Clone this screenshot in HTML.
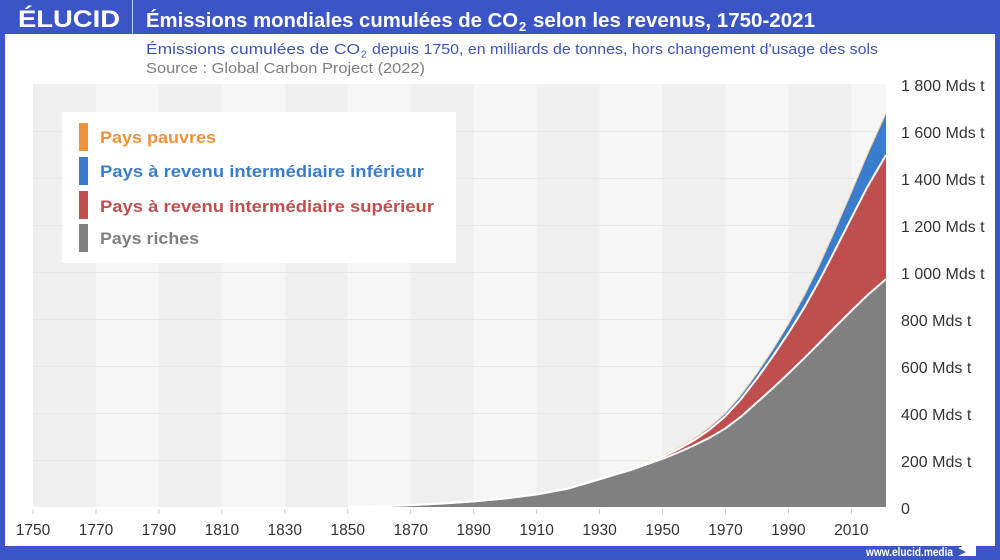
<!DOCTYPE html>
<html>
<head>
<meta charset="utf-8">
<style>
  html, body { margin:0; padding:0; background:#3b55c6; }
  body { width:1000px; height:560px; overflow:hidden; }
  svg { display:block; }
  text { font-family: "Liberation Sans", "DejaVu Sans", sans-serif; }
</style>
</head>
<body>
<svg width="1000" height="560" viewBox="0 0 1000 560" xmlns="http://www.w3.org/2000/svg">
  <defs>
    <clipPath id="plotclip"><rect x="33" y="84" width="853" height="423"/></clipPath>
  </defs>
  <!-- frame -->
  <rect x="0" y="0" width="1000" height="560" fill="#3b55c6"/>
  <rect x="5" y="34" width="990" height="512" fill="#ffffff"/>
  <line x1="132.5" y1="0" x2="132.5" y2="34" stroke="#c9d1f2" stroke-width="1"/>

  <!-- header -->
  <text x="18" y="27" font-size="24" font-weight="bold" fill="#ffffff" textLength="102" lengthAdjust="spacingAndGlyphs">ÉLUCID</text>
  <text x="146" y="27" font-size="20" font-weight="bold" fill="#ffffff" textLength="372" lengthAdjust="spacingAndGlyphs">Émissions mondiales cumulées de CO</text>
  <text x="519" y="31" font-size="13" font-weight="bold" fill="#ffffff">2</text>
  <text x="533" y="27" font-size="20" font-weight="bold" fill="#ffffff" textLength="282" lengthAdjust="spacingAndGlyphs">selon les revenus, 1750-2021</text>

  <!-- subtitle -->
  <text x="146" y="54" font-size="15" fill="#3d55b8" textLength="214" lengthAdjust="spacingAndGlyphs">Émissions cumulées de CO</text>
  <text x="361" y="57.5" font-size="10" fill="#3d55b8">2</text>
  <text x="372" y="54" font-size="15" fill="#3d55b8" textLength="506" lengthAdjust="spacingAndGlyphs">depuis 1750, en milliards de tonnes, hors changement d'usage des sols</text>
  <text x="146" y="73" font-size="15" fill="#7f7f7f" textLength="279" lengthAdjust="spacingAndGlyphs">Source : Global Carbon Project (2022)</text>

  <!-- plot bands -->
  <g>
    <rect x="33" y="84" width="62.95" height="423" fill="#efefef"/>
    <rect x="95.95" y="84" width="62.95" height="423" fill="#f6f6f6"/>
    <rect x="158.9" y="84" width="62.96" height="423" fill="#efefef"/>
    <rect x="221.86" y="84" width="62.94" height="423" fill="#f6f6f6"/>
    <rect x="284.8" y="84" width="62.96" height="423" fill="#efefef"/>
    <rect x="347.76" y="84" width="62.94" height="423" fill="#f6f6f6"/>
    <rect x="410.7" y="84" width="62.96" height="423" fill="#efefef"/>
    <rect x="473.66" y="84" width="62.94" height="423" fill="#f6f6f6"/>
    <rect x="536.6" y="84" width="62.97" height="423" fill="#efefef"/>
    <rect x="599.57" y="84" width="62.93" height="423" fill="#f6f6f6"/>
    <rect x="662.5" y="84" width="63" height="423" fill="#efefef"/>
    <rect x="725.5" y="84" width="62.9" height="423" fill="#f6f6f6"/>
    <rect x="788.4" y="84" width="63" height="423" fill="#efefef"/>
    <rect x="851.4" y="84" width="34.6" height="423" fill="#f6f6f6"/>
  </g>
  <!-- gridlines -->
  <g stroke="#e7e7e7" stroke-width="1">
    <line x1="33" y1="131.5" x2="886" y2="131.5"/>
    <line x1="33" y1="178.5" x2="886" y2="178.5"/>
    <line x1="33" y1="225.5" x2="886" y2="225.5"/>
    <line x1="33" y1="272.5" x2="886" y2="272.5"/>
    <line x1="33" y1="319.5" x2="886" y2="319.5"/>
    <line x1="33" y1="366.5" x2="886" y2="366.5"/>
    <line x1="33" y1="413.5" x2="886" y2="413.5"/>
    <line x1="33" y1="460.5" x2="886" y2="460.5"/>
  </g>

  <g clip-path="url(#plotclip)">
    <!-- poor (orange) -->
    <polygon fill="#f0923b" points="347.8,507 347.8,506.9 379.2,506.3 410.7,505.1 442.2,503.5 473.7,501.4 505.1,498.3 536.6,494.1 568.1,488.0 599.6,478.2 631.0,468.2 662.5,455.7 678.3,447.9 694.0,438.5 709.7,427.1 725.5,413.0 741.2,394.8 757.0,373.2 772.7,349.7 788.4,324.0 804.2,295.7 819.9,264.0 835.6,228.9 851.4,192.3 867.1,155.1 886,113.2 886,507"/>
    <!-- lower-middle (blue) -->
    <polygon fill="#3a7dcf" points="347.8,507 347.8,506.9 379.2,506.3 410.7,505.1 442.2,503.5 473.7,501.4 505.1,498.4 536.6,494.2 568.1,488.1 599.6,478.3 631.0,468.3 662.5,455.8 678.3,448.0 694.0,438.6 709.7,427.3 725.5,413.2 741.2,395.1 757.0,373.5 772.7,350.0 788.4,324.4 804.2,296.2 819.9,264.7 835.6,229.7 851.4,193.3 867.1,156.1 886,114.6 886,507"/>
    <!-- upper-middle (red) -->
    <polygon fill="#bf4f4f" points="347.8,507 347.8,506.9 379.2,506.3 410.7,505.1 442.2,503.5 473.7,501.4 505.1,498.4 536.6,494.3 568.1,488.3 599.6,478.7 631.0,468.9 662.5,456.7 678.3,449.2 694.0,440.3 709.7,429.5 725.5,416.1 741.2,398.9 757.0,378.5 772.7,356.6 788.4,333.1 804.2,307.7 819.9,279.5 835.6,249.0 851.4,217.9 867.1,187.4 886,155.0 886,507"/>
    <!-- rich (gray) -->
    <polygon fill="#808080" points="347.8,507 347.8,506.9 379.2,506.3 410.7,505.1 442.2,503.5 473.7,501.4 505.1,498.5 536.6,494.5 568.1,488.7 599.6,479.3 631.0,469.9 662.5,458.8 678.3,452.5 694.0,445.4 709.7,437.7 725.5,428.3 741.2,416.5 757.0,402.4 772.7,388.3 788.4,373.5 804.2,358.2 819.9,342.5 835.6,326.5 851.4,310.8 867.1,295.5 886,279.1 886,507"/>

    <!-- top lines -->
    <polyline fill="none" stroke="#f5cfa8" stroke-width="1" points="505.1,498.3 536.6,494.1 568.1,488.0 599.6,478.2 631.0,468.2 662.5,455.7 678.3,447.9 694.0,438.5 709.7,427.1 725.5,413.0 741.2,394.8 757.0,373.2 772.7,349.7 788.4,324.0 804.2,295.7 819.9,264.0 835.6,228.9 851.4,192.3 867.1,155.1 886,113.2"/>
    <polyline fill="none" stroke="#ffffff" stroke-width="2" stroke-linejoin="round" points="347.8,506.9 379.2,506.3 410.7,505.1 442.2,503.5 473.7,501.4 505.1,498.4 536.6,494.3 568.1,488.3 599.6,478.7 631.0,468.9 662.5,456.7 678.3,449.2 694.0,440.3 709.7,429.5 725.5,416.1 741.2,398.9 757.0,378.5 772.7,356.6 788.4,333.1 804.2,307.7 819.9,279.5 835.6,249.0 851.4,217.9 867.1,187.4 886,155.0"/>
    <polyline fill="none" stroke="#ffffff" stroke-width="2" stroke-linejoin="round" points="347.8,506.9 379.2,506.3 410.7,505.1 442.2,503.5 473.7,501.4 505.1,498.5 536.6,494.5 568.1,488.7 599.6,479.3 631.0,469.9 662.5,458.8 678.3,452.5 694.0,445.4 709.7,437.7 725.5,428.3 741.2,416.5 757.0,402.4 772.7,388.3 788.4,373.5 804.2,358.2 819.9,342.5 835.6,326.5 851.4,310.8 867.1,295.5 886,279.1"/>
  </g>

  <!-- x ticks -->
  <g stroke="#cccccc" stroke-width="1">
    <line x1="33" y1="509" x2="33" y2="514"/>
    <line x1="95.95" y1="509" x2="95.95" y2="514"/>
    <line x1="158.9" y1="509" x2="158.9" y2="514"/>
    <line x1="221.86" y1="509" x2="221.86" y2="514"/>
    <line x1="284.8" y1="509" x2="284.8" y2="514"/>
    <line x1="347.76" y1="509" x2="347.76" y2="514"/>
    <line x1="410.7" y1="509" x2="410.7" y2="514"/>
    <line x1="473.66" y1="509" x2="473.66" y2="514"/>
    <line x1="536.6" y1="509" x2="536.6" y2="514"/>
    <line x1="599.57" y1="509" x2="599.57" y2="514"/>
    <line x1="662.5" y1="509" x2="662.5" y2="514"/>
    <line x1="725.5" y1="509" x2="725.5" y2="514"/>
    <line x1="788.4" y1="509" x2="788.4" y2="514"/>
    <line x1="851.4" y1="509" x2="851.4" y2="514"/>
  </g>
  <!-- x labels -->
  <g font-size="15.5" fill="#333333" text-anchor="middle">
    <text x="33" y="535">1750</text>
    <text x="95.95" y="535">1770</text>
    <text x="158.9" y="535">1790</text>
    <text x="221.86" y="535">1810</text>
    <text x="284.8" y="535">1830</text>
    <text x="347.76" y="535">1850</text>
    <text x="410.7" y="535">1870</text>
    <text x="473.66" y="535">1890</text>
    <text x="536.6" y="535">1910</text>
    <text x="599.57" y="535">1930</text>
    <text x="662.5" y="535">1950</text>
    <text x="725.5" y="535">1970</text>
    <text x="788.4" y="535">1990</text>
    <text x="851.4" y="535">2010</text>
  </g>
  <!-- y labels -->
  <g font-size="16" fill="#333333">
    <text x="901" y="91">1 800 Mds t</text>
    <text x="901" y="138">1 600 Mds t</text>
    <text x="901" y="185">1 400 Mds t</text>
    <text x="901" y="232">1 200 Mds t</text>
    <text x="901" y="279">1 000 Mds t</text>
    <text x="901" y="326">800 Mds t</text>
    <text x="901" y="373">600 Mds t</text>
    <text x="901" y="420">400 Mds t</text>
    <text x="901" y="467">200 Mds t</text>
    <text x="901" y="514">0</text>
  </g>

  <!-- legend -->
  <rect x="62" y="112" width="394" height="151" fill="#ffffff"/>
  <rect x="79" y="123" width="9" height="28" fill="#f0923b"/>
  <rect x="79" y="157" width="9" height="28" fill="#3a7dcf"/>
  <rect x="79" y="191" width="9" height="28" fill="#bf4f4f"/>
  <rect x="79" y="224" width="9" height="28" fill="#808080"/>
  <g font-size="17" font-weight="bold">
    <text x="100" y="143" fill="#f0923b" textLength="116" lengthAdjust="spacingAndGlyphs">Pays pauvres</text>
    <text x="100" y="177" fill="#3a7dcf" textLength="324" lengthAdjust="spacingAndGlyphs">Pays à revenu intermédiaire inférieur</text>
    <text x="100" y="212" fill="#bf4f4f" textLength="334" lengthAdjust="spacingAndGlyphs">Pays à revenu intermédiaire supérieur</text>
    <text x="100" y="244" fill="#808080" textLength="99" lengthAdjust="spacingAndGlyphs">Pays riches</text>
  </g>

  <!-- footer -->
  <text x="866" y="556" font-size="11.5" font-weight="bold" fill="#ffffff" textLength="87" lengthAdjust="spacingAndGlyphs">www.elucid.media</text>
  <polygon points="958,548 976,541 976,556 958,556 966,552" fill="#ffffff"/>
</svg>
</body>
</html>
